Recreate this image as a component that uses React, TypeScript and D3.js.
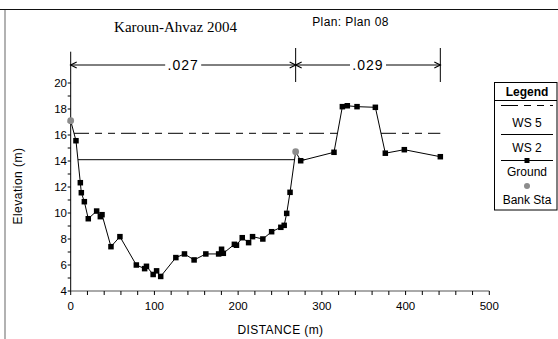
import React from "react";
import * as d3 from "d3";

// ---- data ----
const groundX = [0, 6.3, 11.5, 12.7, 16.3, 21, 31, 35.4, 37.4, 48.1, 58.8, 78.4, 88.3, 90.5, 98.5, 102.6, 107.5, 125.6, 135.9, 147.4, 161.4, 176.7, 180.2, 182.3, 195.5, 198, 204.9, 212.5, 217.2, 229.5, 240, 251, 255, 258, 262, 268.7, 274.7, 314.5, 324.5, 330.4, 342, 363.9, 375.8, 398.5, 441.5];
const groundY = [17.1, 15.56, 12.33, 11.56, 10.87, 9.56, 10.15, 9.72, 9.87, 7.41, 8.18, 6.0, 5.72, 5.9, 5.27, 5.55, 5.12, 6.57, 6.85, 6.39, 6.85, 6.85, 7.21, 6.9, 7.59, 7.52, 8.1, 7.72, 8.18, 8.0, 8.56, 8.9, 9.05, 9.97, 11.59, 14.72, 14.02, 14.67, 18.18, 18.25, 18.18, 18.13, 14.6, 14.87, 14.33];
const bankX = [0, 268.7];
const bankY = [17.1, 14.72];
const wsNames = ["WS 5", "WS 2"];
const wsValues = [16.13, 14.1];
const nBreaks = [0, 268.7, 441.5];
const nLabels = [".027", ".029"];
const xMajorTicks = [0, 100, 200, 300, 400, 500];
const yMajorTicks = [4, 6, 8, 10, 12, 14, 16, 18, 20];
const legendLabels = ["WS 5", "WS 2", "Ground", "Bank Sta"];
const title = "Karoun-Ahvaz 2004";
const planLabel = "Plan: Plan 08";
const xLabel = "DISTANCE (m)";
const yLabel = "Elevation (m)";

const W = 558;
const H = 339;
const SANS = "'Liberation Sans', Arial, sans-serif";
const SERIF = "'Liberation Serif', 'Times New Roman', serif";

const x = d3.scaleLinear().domain([0, 500]).range([70.7, 489.3]);
const y = d3.scaleLinear().domain([4, 22.4]).range([291, 51.8]);

function wetSegments(ws: number): [number, number][] {
  const segs: [number, number][] = [];
  let start: number | null = groundY[0] < ws ? groundX[0] : null;
  for (let i = 1; i < groundX.length; i++) {
    const y0 = groundY[i - 1], y1 = groundY[i];
    const x0 = groundX[i - 1], x1 = groundX[i];
    if ((y0 >= ws) !== (y1 >= ws)) {
      const xc = x0 + ((ws - y0) / (y1 - y0)) * (x1 - x0);
      if (start === null) start = xc;
      else { segs.push([start, xc]); start = null; }
    }
  }
  if (start !== null) segs.push([start, groundX[groundX.length - 1]]);
  return segs;
}

const wsDash = ["15,6,7,6,7,6", undefined];

export default function App() {
  const line = d3.line<number>().x((_, i) => x(groundX[i])).y((_, i) => y(groundY[i]));
  const groundPath = line(groundX) || "";
  const bankSet = new Set(bankX);
  const xMinor = d3.range(0, 501, 20);
  const yMinor = d3.range(4, 21, 1);
  const nY = 65;
  const lx0 = 501, lx1 = 553, lcx = 527;

  const chevron = (px: number, dir: number, key: string) => (
    <polyline key={key} points={`${px - dir * 6},${nY - 3} ${px},${nY} ${px - dir * 6},${nY + 3}`} fill="none" stroke="#000" strokeWidth={1.2} />
  );

  return (
    <svg width={W} height={H} style={{ position: "absolute", left: 0, top: 0, background: "#fff" }} fontFamily={SANS} fill="#000">
      {/* frame */}
      <line x1={0} x2={W} y1={9.5} y2={9.5} stroke="#111" strokeWidth={1} />
      <line x1={5} x2={5} y1={10} y2={H} stroke="#999" strokeWidth={1.5} />

      <text x={175.5} y={32} textAnchor="middle" fontFamily={SERIF} fontSize={15} fill="#000">{title}</text>
      <text x={350.5} y={26} textAnchor="middle" fontSize={12} letterSpacing={0.4} fill="#000">{planLabel}</text>

      {/* n-value annotation */}
      <line x1={x(nBreaks[0])} x2={x(nBreaks[nBreaks.length - 1])} y1={nY} y2={nY} stroke="#000" strokeWidth={1} />
      {nBreaks.slice(1).map((b, i) => (
        <line key={"nb" + i} x1={x(b)} x2={x(b)} y1={48} y2={82} stroke="#000" strokeWidth={1} />
      ))}
      {nLabels.map((lab, i) => {
        const cx = (x(nBreaks[i]) + x(nBreaks[i + 1])) / 2;
        return (
          <g key={"nl" + i}>
            <rect x={cx - 18} y={nY - 7} width={36} height={14} fill="#fff" />
            <text x={cx} y={nY + 5} textAnchor="middle" fontSize={14} letterSpacing={1} fill="#000">{lab}</text>
            {chevron(x(nBreaks[i]), -1, "cl" + i)}
            {chevron(x(nBreaks[i + 1]), 1, "cr" + i)}
          </g>
        );
      })}

      {/* axes */}
      <line x1={x(0)} x2={x(0)} y1={y(4)} y2={51.7} stroke="#000" strokeWidth={1} />
      <line x1={x(0)} x2={x(500)} y1={y(4)} y2={y(4)} stroke="#555" strokeWidth={1} />
      {xMinor.map((t) => (
        <line key={"xt" + t} x1={x(t)} x2={x(t)} y1={y(4)} y2={y(4) + 4} stroke="#000" strokeWidth={1} />
      ))}
      {xMajorTicks.map((t) => (
        <text key={"xl" + t} x={x(t)} y={309.5} textAnchor="middle" fontSize={11.5} fill="#000">{t}</text>
      ))}
      {yMinor.map((t) => (
        <line key={"yt" + t} x1={x(0) - 3} x2={x(0)} y1={y(t)} y2={y(t)} stroke="#000" strokeWidth={1} />
      ))}
      {yMajorTicks.map((t) => (
        <text key={"yl" + t} x={67} y={y(t) + 4} textAnchor="end" fontSize={11.5} fill="#000">{t}</text>
      ))}
      <text x={280.5} y={334} textAnchor="middle" fontSize={12} letterSpacing={0.4} fill="#000">{xLabel}</text>
      <text transform={`translate(22,186) rotate(-90)`} textAnchor="middle" fontSize={12} letterSpacing={0.5} fill="#000">{yLabel}</text>

      {/* water surfaces */}
      {wsValues.map((ws, k) =>
        wetSegments(ws).map((s, j) => (
          <line key={`ws${k}-${j}`} x1={x(s[0])} x2={x(s[1])} y1={y(ws)} y2={y(ws)} stroke="#000" strokeWidth={1} strokeDasharray={wsDash[k]} />
        ))
      )}

      {/* ground */}
      <path d={groundPath} fill="none" stroke="#000" strokeWidth={1} />
      {groundX.map((gx, i) =>
        bankSet.has(gx) ? null : (
          <rect key={"g" + i} x={x(gx) - 2.75} y={y(groundY[i]) - 2.75} width={5.5} height={5.5} fill="#000" />
        )
      )}
      {bankX.map((bx, i) => (
        <circle key={"b" + i} cx={x(bx)} cy={y(bankY[i])} r={3.4} fill="#8c8c8c" />
      ))}

      {/* legend */}
      <rect x={494.5} y={82.5} width={62.5} height={127.5} fill="#fff" stroke="#000" strokeWidth={1} />
      <line x1={494.5} x2={557} y1={100.5} y2={100.5} stroke="#000" strokeWidth={1} />
      <text x={lcx} y={96} textAnchor="middle" fontSize={12} fontWeight="bold" fill="#000">Legend</text>
      <line x1={lx0} x2={lx1} y1={105.5} y2={105.5} stroke="#000" strokeWidth={1} strokeDasharray="17,6,7,6,7,6" />
      <text x={lcx} y={126.5} textAnchor="middle" fontSize={12} fill="#000">{legendLabels[0]}</text>
      <line x1={lx0} x2={lx1} y1={134.5} y2={134.5} stroke="#000" strokeWidth={1} />
      <text x={lcx} y={152} textAnchor="middle" fontSize={12} fill="#000">{legendLabels[1]}</text>
      <line x1={lx0} x2={lx1} y1={160.5} y2={160.5} stroke="#000" strokeWidth={1} />
      <rect x={lcx - 2.5} y={158} width={5} height={5} fill="#000" />
      <text x={lcx} y={175.5} textAnchor="middle" fontSize={12} fill="#000">{legendLabels[2]}</text>
      <circle cx={lcx} cy={186} r={3} fill="#8c8c8c" />
      <text x={lcx} y={204} textAnchor="middle" fontSize={12} fill="#000">{legendLabels[3]}</text>
    </svg>
  );
}
